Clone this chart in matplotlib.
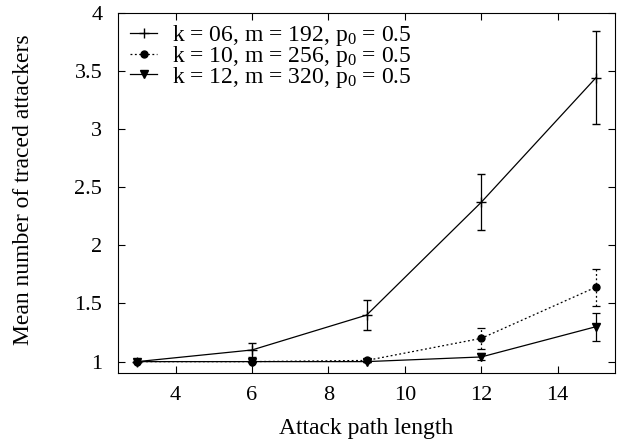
import matplotlib
matplotlib.use("Agg")
import matplotlib.pyplot as plt

plt.rcParams['font.family'] = ['Liberation Serif', 'DejaVu Serif']
plt.rcParams['mathtext.fontset'] = 'custom'
plt.rcParams['mathtext.rm'] = 'Liberation Serif'
plt.rcParams['mathtext.it'] = 'Liberation Serif:italic'

path_len = [3, 6, 9, 12, 15]
labels = ["k = 06, m = 192, p$_0$ = 0.5",
          "k = 10, m = 256, p$_0$ = 0.5",
          "k = 12, m = 320, p$_0$ = 0.5"]
mean_k06 = [1.0, 1.10, 1.40, 2.37, 3.44]
err_k06 = [0.0, 0.06, 0.13, 0.24, 0.40]
mean_k10 = [1.0, 1.0, 1.01, 1.20, 1.64]
err_k10 = [0.0, 0.0, 0.01, 0.09, 0.16]
mean_k12 = [1.0, 1.0, 1.0, 1.04, 1.30]
err_k12 = [0.0, 0.0, 0.0, 0.03, 0.12]

fig = plt.figure(figsize=(6.19, 4.47), dpi=100)
ax = fig.add_axes([0.191, 0.165, 0.8025, 0.8066])

styles = [
    dict(ls='-', marker='+', ms=7, mfc='black', mew=1.0),
    dict(ls=(0, (1.5, 2)), marker='o', ms=5, mfc='black'),
    dict(ls='-', marker='v', ms=6, mfc='black'),
]
series = [(mean_k06, err_k06), (mean_k10, err_k10), (mean_k12, err_k12)]
handles = []
for (m, e), st, lab in zip(series, styles, labels):
    cont = ax.errorbar(path_len, m, yerr=e, color='black', lw=0.9, capsize=3,
                       elinewidth=0.9, capthick=0.9, label=lab, **st)
    if st['ls'] != '-':
        for lc in cont[2]:
            lc.set_linestyle(st['ls'])
    handles.append(cont[0])

ax.set_xlim(2.5, 15.5)
ax.set_ylim(0.9, 4.0)
ax.set_xticks([4, 6, 8, 10, 12, 14])
ax.set_yticks([1, 1.5, 2, 2.5, 3, 3.5, 4])
ax.set_yticklabels(['1', '1.5', '2', '2.5', '3', '3.5', '4'])
ax.tick_params(direction='in', top=True, right=True, labelsize=16, length=5)
ax.tick_params(axis='x', pad=9)
ax.tick_params(axis='y', pad=11.5)
ax.set_xlabel('Attack path length', fontsize=17)
ax.set_ylabel('Mean number of traced attackers', fontsize=17)
ax.xaxis.set_label_coords(0.5, -0.124)
ax.yaxis.set_label_coords(-0.170, 0.51)

leg = ax.legend(handles=handles, labels=labels, loc='upper left',
                bbox_to_anchor=(0.0236, 0.972), frameon=False, fontsize=17,
                handlelength=1.15, labelspacing=-0.17, borderaxespad=0,
                borderpad=0, handletextpad=0.62, numpoints=1)

fig.savefig('out.png', dpi=100)
